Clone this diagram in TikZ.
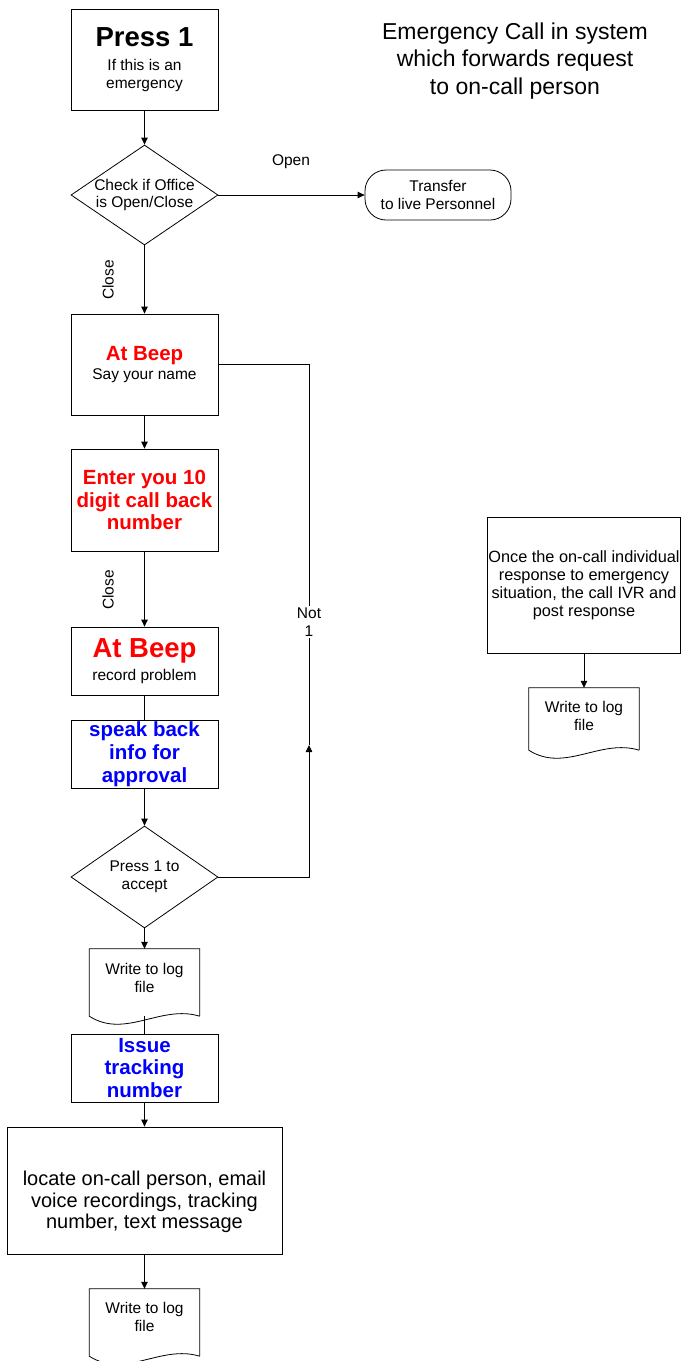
\documentclass[tikz,border=0pt]{standalone}
\usepackage{fontspec}
\setmainfont{Liberation Sans}
\usetikzlibrary{arrows.meta,shapes.geometric,calc}

% font sizes used in the chart
\newcommand{\fsSmall}{\fontsize{15.5}{17.5}\selectfont}
\newcommand{\fsMid}{\fontsize{20.5}{22.7}\selectfont\bfseries}
\newcommand{\fsBig}{\fontsize{27.5}{30}\selectfont\bfseries}
\newcommand{\fsLocate}{\fontsize{20}{21.7}\selectfont}
\newcommand{\fsResp}{\fontsize{16.3}{18}\selectfont}
\newcommand{\fsTitle}{\fontsize{23}{27.5}\selectfont}

\definecolor{alertred}{RGB}{255,0,0}
\definecolor{infoblue}{RGB}{0,0,255}

\begin{document}
\begin{tikzpicture}[x=1pt, y=-1pt,
  font=\fsSmall,
  stepbox/.style={draw, rectangle, line width=0.8pt, inner sep=0pt, align=center},
  decision/.style={draw, diamond, line width=0.8pt, inner sep=0pt},
  docbox/.style={rectangle, inner sep=0pt, minimum width=110, minimum height=67},
  docline/.style={line width=0.8pt, line join=miter},
  flow/.style={line width=0.8pt, -{Triangle[length=7pt,width=6.5pt]}},
  plainline/.style={line width=0.8pt},
  lbl/.style={inner sep=1pt, align=center}]

\useasboundingbox (0,0) rectangle (681,1361);

% title
\node[align=center, font=\fsTitle] (title) at (515,61)
  {Emergency Call in system\\which forwards request\\to on-call person};

% main column
\node[stepbox, minimum width=147, minimum height=101] (press) at (144.5,59.5)
  {{\fsBig Press 1}\\[7pt]If this is an\\emergency};

\node[decision, minimum width=147, minimum height=100] (check) at (144.5,195) {};
\node[align=center] (checktext) at (144.5,195) {Check if Office\\is Open/Close};

\node[draw, rectangle, rounded corners=21, line width=0.8pt, minimum width=146,
      minimum height=50, inner sep=0pt, align=center] (transfer) at (438,195)
  {Transfer\\to live Personnel};

\node[stepbox, minimum width=147, minimum height=101] (beep1) at (144.5,364.5)
  {{\fsMid\color{alertred}At Beep}\\[1pt]Say your name};

\node[stepbox, minimum width=147, minimum height=102, text=alertred, font=\fsMid] (enter) at (144.5,500)
  {Enter you 10\\digit call back\\number};

\node[stepbox, minimum width=147, minimum height=68] (beep2) at (144.5,661)
  {{\fsBig\color{alertred}At Beep}\\[5pt]record problem};

\node[stepbox, minimum width=147, minimum height=68, text=infoblue, font=\fsMid] (speak) at (144.5,754)
  {speak back\\info for\\approval};

\node[decision, minimum width=147, minimum height=102] (accept) at (144.5,877) {};
\node[align=center] (accepttext) at (144.5,877) {Press 1 to\\accept};

\node[docbox] (log1) at (144.5,982.5) {};
\node[align=center] (log1text) at (144.5,978) {Write to log\\file};

\node[stepbox, minimum width=147, minimum height=68, text=infoblue, font=\fsMid] (issue) at (144.5,1068)
  {Issue\\tracking\\number};

\node[stepbox, minimum width=275, minimum height=127] (locate) at (144.5,1190.5) {};
\node[align=center, font=\fsLocate] (locatetext) at (144.5,1202)
  {locate on-call person, email\\voice recordings, tracking\\number, text message};

\node[docbox] (log2) at (144.5,1322.5) {};
\node[align=center] (log2text) at (144.5,1317) {Write to log\\file};

% response branch on the right
\node[stepbox, minimum width=193, minimum height=136] (resp) at (584,585) {};
\node[align=center, font=\fsResp] (resptext) at (584,585)
  {Once the on-call individual\\response to emergency\\situation, the call IVR and\\post response};

\node[docbox, minimum height=62] (log3) at (584,719) {};
\node[align=center] (log3text) at (584,716) {Write to log\\file};

% document outlines with wavy bottom edge
\foreach \d in {log1,log2,log3}{
  \draw[docline] (\d.south east) -- (\d.north east) -- (\d.north west) -- (\d.south west)
    .. controls ($(\d.south west)+(36,23)$) and ($(\d.south east)+(-39,-12)$) .. (\d.south east);
}

% connectors
\draw[flow] (press.south) -- (check.north);
\draw[flow] (check.east) -- (transfer.west);
\draw[flow] (check.south) -- (beep1.north);
\draw[flow] (beep1.south) -- (enter.north);
\draw[flow] (enter.south) -- (beep2.north);
\draw[plainline] (beep2.south) -- (speak.north);
\draw[flow] (speak.south) -- (accept.north);
\draw[flow] (accept.south) -- (log1.north);
\draw[plainline] (log1.south) -- (issue.north);
\draw[flow] (issue.south) -- (locate.north);
\draw[flow] (locate.south) -- (log2.north);
\draw[flow] (resp.south) -- (log3.north);

% "Not 1" loop back to the name prompt
\coordinate (loopB) at (309,877);
\coordinate (loopM) at (309,745);
\coordinate (loopT) at (309,364.5);
\draw[flow] (accept.east) -- (loopB) -- (loopM);
\draw[plainline] (loopM) -- (loopT) -- (beep1.east);

% branch labels
\node[lbl] (openlbl) at (291,162) {Open};
\node[lbl, rotate=90] (close1) at (108,280) {Close};
\node[lbl, rotate=90] (close2) at (108,590) {Close};
\node[lbl, fill=white, inner sep=2pt] (not1) at (309,622) {Not\\1};

\end{tikzpicture}
\end{document}
